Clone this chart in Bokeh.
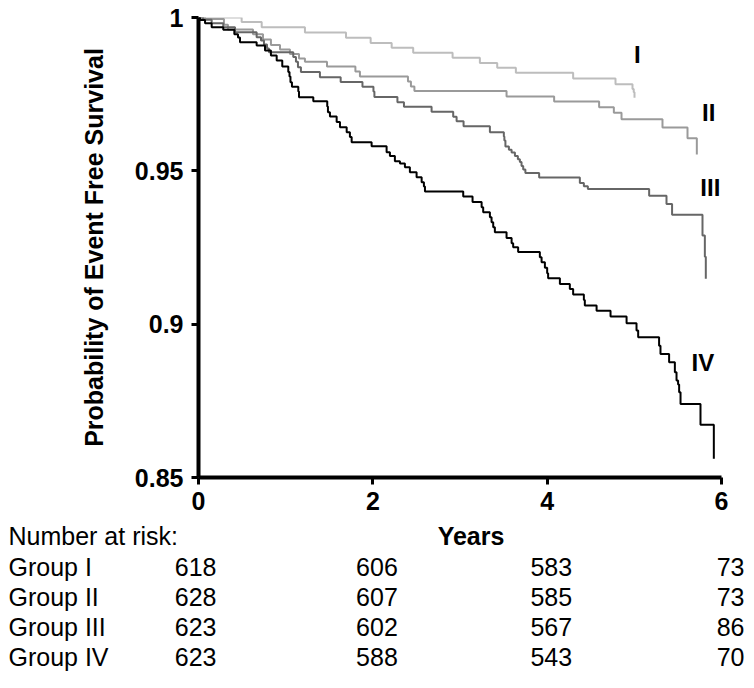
from bokeh.plotting import figure
from bokeh.models import Range1d, FixedTicker, NumeralTickFormatter, Label, ColumnDataSource
from bokeh.layouts import column
from bokeh.core.properties import value
from bokeh.embed import file_html
from bokeh.resources import INLINE

# ---------------- data ----------------
g1_t = [0, 0.495, 0.725, 1.221, 1.692, 1.975, 2.216, 2.463, 2.915, 3.228, 3.427, 3.641,
        4.298, 4.784, 4.979, 4.993, 5.002]
g1_s = [1.0, 0.9985, 0.9968, 0.9951, 0.9934, 0.9917, 0.9901, 0.9885, 0.9869, 0.9852, 0.9836,
        0.9820, 0.9801, 0.9782, 0.9767, 0.9756, 0.9738]

g2_t = [0, 0.075, 0.292, 0.338, 0.625, 0.740, 0.831, 0.935, 1.049, 1.153, 1.221, 1.474, 1.800,
        1.852, 2.403, 2.437, 2.477, 3.534, 4.080, 4.596, 4.765, 4.853, 5.323, 5.610, 5.717]
g2_s = [1.0, 0.9995, 0.9976, 0.9961, 0.9945, 0.9928, 0.9910, 0.9896, 0.9881, 0.9866, 0.9856,
        0.9840, 0.9824, 0.9808, 0.9791, 0.9775, 0.9760, 0.9742, 0.9726, 0.9707, 0.9689, 0.9668,
        0.9641, 0.9606, 0.9553]

g3_t = [0, 0.052, 0.151, 0.284, 0.419, 0.667, 0.717, 0.751, 0.786, 0.808, 1.087, 1.118, 1.141,
        1.175, 1.393, 1.631, 1.881, 2.007, 2.018, 2.282, 2.357, 2.674, 2.922, 2.961, 3.041, 3.343,
        3.503, 3.509, 3.521, 3.561, 3.592, 3.630, 3.664, 3.687, 3.706, 3.725, 3.750, 3.908, 4.375,
        4.421, 4.467, 5.170, 5.369, 5.433, 5.782, 5.809, 5.820]
g3_s = [1.0, 0.9993, 0.9981, 0.9968, 0.9952, 0.9936, 0.9925, 0.9912, 0.9899, 0.9887, 0.9871,
        0.9856, 0.9838, 0.9822, 0.9805, 0.9790, 0.9774, 0.9759, 0.9741, 0.9724, 0.9709, 0.9693,
        0.9676, 0.9662, 0.9645, 0.9626, 0.9612, 0.9599, 0.9579, 0.9569, 0.9560, 0.9548, 0.9538,
        0.9529, 0.9516, 0.9504, 0.9493, 0.9478, 0.9460, 0.9450, 0.9441, 0.9419, 0.9392, 0.9357,
        0.9289, 0.9220, 0.9148]

g4_t = [0, 0.017, 0.075, 0.151, 0.284, 0.411, 0.453, 0.476, 0.667, 0.763, 0.831, 0.897, 0.961,
        1.030, 1.044, 1.055, 1.072, 1.145, 1.153, 1.317, 1.477, 1.485, 1.508, 1.585, 1.623, 1.700,
        1.737, 1.757, 1.986, 2.158, 2.196, 2.253, 2.311, 2.368, 2.425, 2.502, 2.560, 2.586, 2.598,
        3.037, 3.144, 3.248, 3.266, 3.343, 3.362, 3.381, 3.400, 3.534, 3.592, 3.610, 3.667, 3.916,
        3.936, 3.974, 4.000, 4.011, 4.146, 4.260, 4.298, 4.421, 4.432, 4.567, 4.727, 4.911, 5.025,
        5.044, 5.284, 5.300, 5.399, 5.465, 5.484, 5.502, 5.514, 5.530, 5.759, 5.912]
g4_s = [1.0, 0.9992, 0.9981, 0.9968, 0.9960, 0.9945, 0.9935, 0.9919, 0.9909, 0.9892, 0.9876,
        0.9860, 0.9840, 0.9822, 0.9808, 0.9789, 0.9774, 0.9759, 0.9740, 0.9727, 0.9710, 0.9691,
        0.9677, 0.9659, 0.9642, 0.9626, 0.9610, 0.9593, 0.9580, 0.9561, 0.9548, 0.9531, 0.9524,
        0.9512, 0.9495, 0.9479, 0.9463, 0.9449, 0.9433, 0.9416, 0.9398, 0.9381, 0.9365, 0.9349,
        0.9332, 0.9316, 0.9300, 0.9281, 0.9264, 0.9251, 0.9235, 0.9218, 0.9202, 0.9184, 0.9166,
        0.9150, 0.9131, 0.9115, 0.9097, 0.9079, 0.9061, 0.9044, 0.9025, 0.9003, 0.8979, 0.8957,
        0.8930, 0.8903, 0.8876, 0.8843, 0.8816, 0.8803, 0.8778, 0.8740, 0.8672, 0.8561]

curve_names = ["I", "II", "III", "IV"]
x_ticks = [0, 2, 4, 6]
y_ticks = [0.85, 0.9, 0.95, 1.0]
x_title = "Years"
y_title = "Probability of Event Free Survival"

risk_header = "Number at risk:"
risk_years = [0, 2, 4, 6]
risk_groups = ["Group I", "Group II", "Group III", "Group IV"]
risk_I = [618, 606, 583, 73]
risk_II = [628, 607, 585, 73]
risk_III = [623, 602, 567, 86]
risk_IV = [623, 588, 543, 70]

# ---------------- styles / layout ----------------
FONT = "Liberation Sans"
colors = ["#bdbdbd", "#9a9a9a", "#666666", "#000000"]
name_pos = [(5.034, 0.9879), (5.854, 0.9689), (5.872, 0.9447), (5.786, 0.8876)]

W = 754
LEFT, RIGHT, TOP = 198, 33, 17
FRAME_H = 460
MAIN_H = 520
TAB_H = 688 - MAIN_H
PX_PER_YEAR = (W - LEFT - RIGHT) / 6.0

risk_dx = [18, 25, 25, 23]          # right-edge offset of each column from its year (px)
row_base = [46, 76, 106, 136]       # baselines of table rows, px from top of table panel
header_base = 15

p = figure(width=W, height=MAIN_H, output_backend="svg", toolbar_location=None,
           x_range=Range1d(0, 6), y_range=Range1d(0.85, 1.0),
           min_border_left=LEFT, min_border_right=RIGHT, min_border_top=TOP,
           min_border_bottom=MAIN_H - TOP - FRAME_H)
p.frame_align = False
p.outline_line_color = None
p.xgrid.visible = False
p.ygrid.visible = False

for ax in (p.xaxis[0], p.yaxis[0]):
    ax.axis_line_width = 4
    ax.axis_line_color = "black"
    ax.major_tick_line_width = 3
    ax.major_tick_line_color = "black"
    ax.major_tick_in = 0
    ax.major_tick_out = 7
    ax.minor_tick_line_color = None
    ax.major_label_text_font = FONT
    ax.major_label_text_font_style = "bold"
    ax.major_label_text_font_size = "25px"
    ax.major_label_text_color = "black"
    ax.axis_label_text_font = FONT
    ax.axis_label_text_font_style = "bold"
    ax.axis_label_text_font_size = "25px"
    ax.axis_label_text_color = "black"

p.xaxis.ticker = FixedTicker(ticks=x_ticks)
p.yaxis.ticker = FixedTicker(ticks=y_ticks)
p.yaxis.formatter = NumeralTickFormatter(format="0.[00]")
p.xaxis.major_label_standoff = 7
p.yaxis.major_label_standoff = 8
p.yaxis.axis_label = y_title
p.yaxis.axis_label_standoff = 24

series = [(g1_t, g1_s), (g2_t, g2_s), (g3_t, g3_s), (g4_t, g4_s)]
for (t, s), c in zip(series, colors):
    p.step(t, s, mode="after", line_color=c, line_width=2)

for name, (lx, ly) in zip(curve_names, name_pos):
    p.add_layout(Label(x=lx, y=ly, text=name, text_font=FONT, text_font_style="bold",
                       text_font_size="24px", text_align="center", text_baseline="middle",
                       text_color="black"))

# ---------------- number-at-risk panel (same horizontal scale) ----------------
x0 = -LEFT / PX_PER_YEAR
x1 = (W - LEFT) / PX_PER_YEAR
tb = figure(width=W, height=TAB_H, output_backend="svg", toolbar_location=None,
            x_range=Range1d(x0, x1), y_range=Range1d(TAB_H, 0),
            min_border=0, x_axis_location=None, y_axis_location=None)
tb.frame_align = False
tb.outline_line_color = None
tb.xgrid.visible = False
tb.ygrid.visible = False

# header and x-axis title row
tb.text(x=[x0], y=[header_base], text=[risk_header], x_offset=8,
        text_font=value(FONT), text_font_size="25px", text_align="left",
        text_baseline="alphabetic", text_color="black")
tb.text(x=[3], y=[header_base], text=[x_title], x_offset=11,
        text_font=value(FONT), text_font_style="bold", text_font_size="25px",
        text_align="center", text_baseline="alphabetic", text_color="black")

gx, gy, gt = [], [], []
nx, ny, nt, ndx = [], [], [], []
for grp, vals, rb in zip(risk_groups, [risk_I, risk_II, risk_III, risk_IV], row_base):
    gx.append(x0); gy.append(rb); gt.append(grp)
    for yr, v, dx in zip(risk_years, vals, risk_dx):
        nx.append(yr); ny.append(rb); nt.append(str(v)); ndx.append(dx)

tb.text(x="x", y="y", text="text", source=ColumnDataSource(dict(x=gx, y=gy, text=gt)),
        x_offset=8, text_font=value(FONT), text_font_size="25px", text_align="left",
        text_baseline="alphabetic", text_color="black")
tb.text(x="x", y="y", text="text", x_offset="dx",
        source=ColumnDataSource(dict(x=nx, y=ny, text=nt, dx=ndx)),
        text_font=value(FONT), text_font_size="25px", text_align="right",
        text_baseline="alphabetic", text_color="black")

layout = column(p, tb, spacing=0)
open("out.html", "w").write(file_html(layout, INLINE))
